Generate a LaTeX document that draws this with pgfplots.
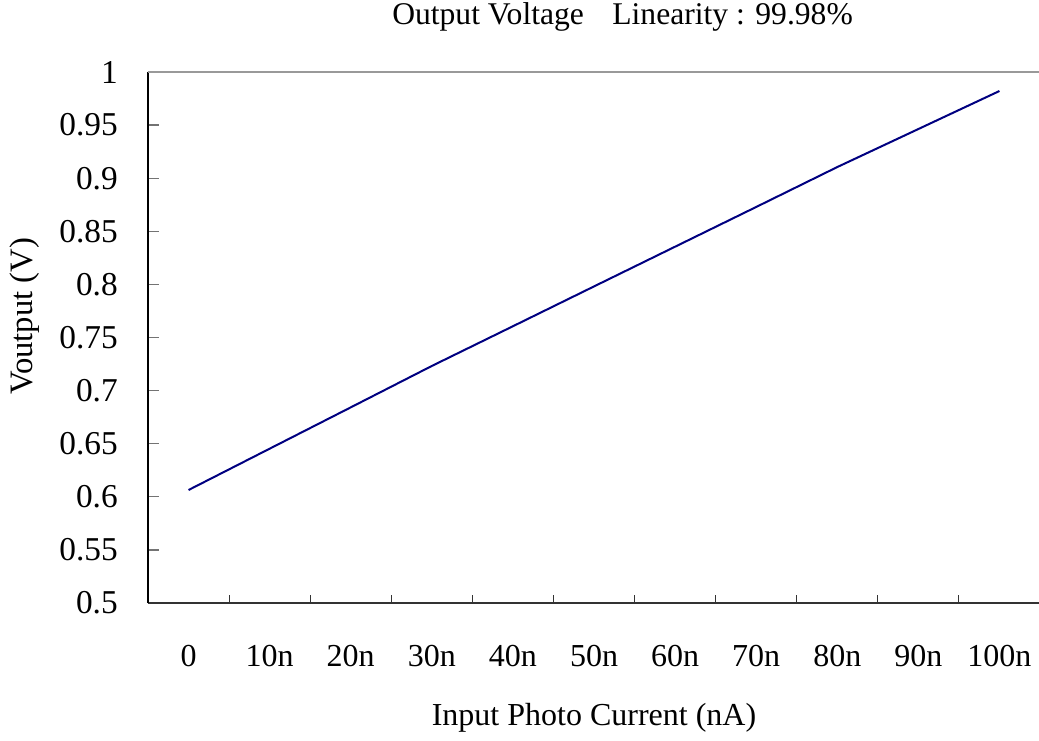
\documentclass[border=0pt]{standalone}
\usepackage{fontspec}
\setmainfont{Liberation Serif}
\usepackage{pgfplots}
\pgfplotsset{compat=1.18}
\definecolor{linenavy}{RGB}{0,0,128}
\begin{document}
\begin{tikzpicture}
\useasboundingbox (-111pt,-102.75pt) rectangle (668.25pt,452.25pt);
\begin{axis}[
  at={(0pt,0pt)}, anchor=south west,
  scale only axis,
  width=669pt, height=398.25pt,
  xmin=-0.5, xmax=10.5,
  ymin=0.5, ymax=1,
  axis x line*=bottom, axis y line*=left,
  axis line style={-},
  x axis line style={draw=black!80, line width=1pt},
  y axis line style={draw=black, line width=1.4pt},
  xtick={0,1,2,3,4,5,6,7,8,9,10},
  xticklabels={0,10n,20n,30n,40n,50n,60n,70n,80n,90n,100n},
  major x tick style={draw=none},
  minor xtick={0.5,1.5,2.5,3.5,4.5,5.5,6.5,7.5,8.5,9.5},
  minor x tick style={draw=black!80, line width=0.8pt},
  minor tick length=6pt,
  ytick={0.5,0.55,0.6,0.65,0.7,0.75,0.8,0.85,0.9,0.95,1},
  yticklabels={0.5,0.55,0.6,0.65,0.7,0.75,0.8,0.85,0.9,0.95,1},
  major tick length=8pt,
  y tick style={draw=black!55, line width=1pt},
  tick align=inside,
  /pgf/number format/assume math mode=true,
  xticklabel style={font=\fontsize{24}{28}\selectfont, anchor=north, inner sep=0pt, yshift=-31.5pt},
  yticklabel style={font=\fontsize{25}{29}\selectfont, anchor=east, inner sep=0pt, xshift=-22.5pt},
  title={Output Voltage\hspace{0.9em}Linearity : 99.98\%},
  title style={at={(rel axis cs:0.532,1.0885)}, anchor=center, yshift=0pt, font=\fontsize{23.7}{27}\selectfont, inner sep=0pt},
  xlabel={Input Photo Current (nA)},
  xlabel style={at={(rel axis cs:0.5,-0.2166)}, anchor=center, yshift=0pt, font=\fontsize{24}{28}\selectfont, inner sep=0pt},
  ylabel={Voutput (V)},
  ylabel style={at={(rel axis cs:-0.1379,0.5405)}, anchor=center, yshift=0pt, font=\fontsize{24.5}{28}\selectfont, inner sep=0pt},
  clip=false,
  extra description/.code={\draw[black!40, line width=1.2pt] (rel axis cs:0,1) -- (rel axis cs:1,1);},
]
\addplot[color=linenavy, line width=1.5pt, mark=none] coordinates {
  (0,0.6064) (1,0.6453) (2,0.6842) (3,0.7232) (4,0.7606) (5,0.7981)
  (6,0.8355) (7,0.8729) (8,0.9105) (9,0.9463) (10,0.9821)
};
\end{axis}
\end{tikzpicture}
\end{document}
